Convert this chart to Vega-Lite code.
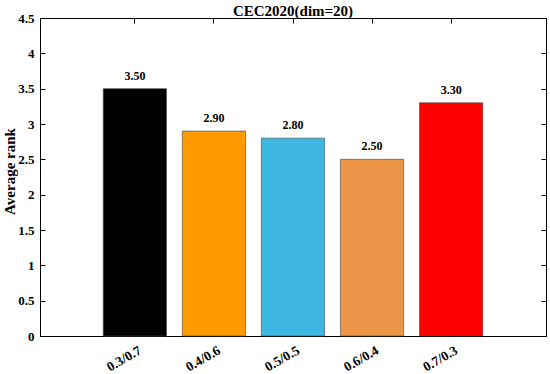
{
  "$schema": "https://vega.github.io/schema/vega-lite/v6.json",
  "width": 506,
  "height": 318,
  "autosize": "none",
  "padding": {"left": 40, "top": 18, "right": 4, "bottom": 38},
  "background": "white",
  "title": {"text": "CEC2020(dim=20)", "font": "Liberation Serif", "fontSize": 15, "fontWeight": "bold", "color": "#000", "offset": 3, "dy": 10, "anchor": "middle"},
  "config": {
    "view": {"stroke": "#000", "strokeWidth": 1},
    "axis": {"labelFont": "Liberation Serif", "labelFontSize": 13, "labelFontWeight": "bold", "labelColor": "#000", "titleFont": "Liberation Serif", "titleFontSize": 15, "titleFontWeight": "bold", "titleColor": "#000", "domainColor": "#000", "tickColor": "#000", "grid": false, "tickSize": -5}
  },
  "data": {"values": [
    {"ratio": "0.3/0.7", "rank": 3.5, "color": "#000000"},
    {"ratio": "0.4/0.6", "rank": 2.9, "color": "#FE9A00"},
    {"ratio": "0.5/0.5", "rank": 2.8, "color": "#3DB7E2"},
    {"ratio": "0.6/0.4", "rank": 2.5, "color": "#EC9447"},
    {"ratio": "0.7/0.3", "rank": 3.3, "color": "#FF0000"}
  ]},
  "layer": [
    {
      "mark": {"type": "bar", "stroke": "#444", "strokeWidth": 0.6},
      "encoding": {
        "x": {"field": "ratio", "type": "nominal", "sort": null, "scale": {"paddingInner": 0.2, "paddingOuter": 0.8},
              "axis": {"orient": "bottom", "title": null, "labelAngle": -30, "labelAlign": "right", "labelBaseline": "top", "labelPadding": 12, "labelOffset": 2, "labelFontSize": 13.5}},
        "y": {"field": "rank", "type": "quantitative", "scale": {"domain": [0, 4.5], "nice": false},
              "axis": {"orient": "left", "title": "Average rank", "values": [0, 0.5, 1, 1.5, 2, 2.5, 3, 3.5, 4, 4.5], "format": "~g", "labelPadding": 11, "titlePadding": 0, "titleY": 153}},
        "color": {"field": "color", "type": "nominal", "scale": null}
      }
    },
    {
      "mark": {"type": "text", "font": "Liberation Serif", "fontSize": 12, "fontWeight": "bold", "color": "#000", "baseline": "bottom", "dy": -6},
      "encoding": {
        "x": {"field": "ratio", "type": "nominal", "sort": null, "scale": {"paddingInner": 0.2, "paddingOuter": 0.8},
              "axis": {"orient": "top", "title": null, "labels": false}},
        "y": {"field": "rank", "type": "quantitative", "scale": {"domain": [0, 4.5], "nice": false},
              "axis": {"orient": "right", "title": null, "labels": false, "values": [0, 0.5, 1, 1.5, 2, 2.5, 3, 3.5, 4, 4.5]}},
        "text": {"field": "rank", "type": "quantitative", "format": ".2f"}
      }
    }
  ],
  "resolve": {"axis": {"x": "independent", "y": "independent"}}
}
